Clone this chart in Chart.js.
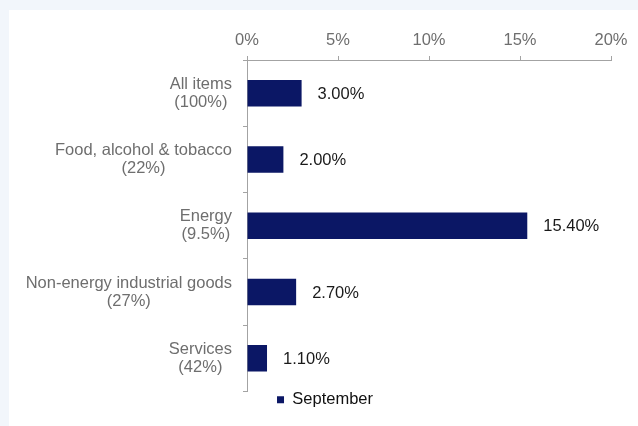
<!DOCTYPE html>
<html>
<head>
<meta charset="utf-8">
<script src="https://cdn.jsdelivr.net/npm/chart.js@4.4.1/dist/chart.umd.min.js"></script>
<style>
  html, body { margin: 0; padding: 0; background: #f2f6fb; }
  #panel { position: absolute; left: 9px; top: 10px; width: 629px; height: 416px; background: #fff; }
  canvas { display: block; }
</style>
</head>
<body>
<div id="panel"><canvas id="chart" width="629" height="416"></canvas></div>
<script>
// categories (two-line labels) and September inflation values
const categories = [
    ["All items", "(100%)"],
    ["Food, alcohol & tobacco", "(22%)"],
    ["Energy", "(9.5%)"],
    ["Non-energy industrial goods", "(27%)"],
    ["Services", "(42%)"]
];
const september = [3.0, 2.0, 15.4, 2.7, 1.1];
const xTicks = [0, 5, 10, 15, 20];

const FONT = "'Liberation Sans', Arial, sans-serif";
const AXIS = "#a3a3a3";

// valeurs à droite des barres
const valueLabels = {
    id: "valueLabels",
    afterDatasetsDraw(chart) {
        const ctx = chart.ctx;
        const meta = chart.getDatasetMeta(0);
        ctx.save();
        ctx.font = "16.5px " + FONT;
        ctx.fillStyle = "#1a1a1a";
        ctx.textAlign = "left";
        ctx.textBaseline = "middle";
        meta.data.forEach((bar, i) => {
            ctx.fillText(september[i].toFixed(2) + "%", bar.x + 16, bar.y + 1);
        });
        ctx.restore();
    }
};

// category labels: block right-aligned to the axis, lines centred inside the block
const categoryLabels = {
    id: "categoryLabels",
    afterDraw(chart) {
        const ctx = chart.ctx;
        const s = chart.scales.y;
        const right = s.right - 4 - 11;
        const lh = 18;
        ctx.save();
        ctx.font = "16.5px " + FONT;
        ctx.fillStyle = "#6e6e6e";
        ctx.textAlign = "center";
        ctx.textBaseline = "middle";
        categories.forEach((lines, i) => {
            const w = Math.max(...lines.map(t => ctx.measureText(t).width));
            const cx = right - w / 2;
            const y0 = s.getPixelForTick(i) - (lines.length - 1) * lh / 2;
            lines.forEach((t, j) => ctx.fillText(t, cx, y0 + j * lh));
        });
        ctx.restore();
    }
};

new Chart(document.getElementById("chart"), {
    type: "bar",
    data: {
        labels: categories,
        datasets: [{
            label: "September",
            data: september,
            backgroundColor: "#0b1765",
            barPercentage: 0.4,
            categoryPercentage: 1
        }]
    },
    options: {
        indexAxis: "y",
        responsive: false,
        animation: false,
        layout: { padding: { left: 30, right: 27, top: 0, bottom: 8 } },
        scales: {
            x: {
                position: "top",
                min: 0,
                max: 20,
                afterBuildTicks: s => { s.ticks = xTicks.map(v => ({ value: v })); },
                afterFit: s => { s.height = 50; },
                grid: { drawOnChartArea: false, color: AXIS, tickLength: 4 },
                border: { color: AXIS },
                ticks: {
                    padding: 6,
                    color: "#6e6e6e",
                    font: { family: FONT, size: 16.5 },
                    callback: v => v + "%"
                }
            },
            y: {
                afterFit: s => { s.width = 208; },
                grid: { drawOnChartArea: false, color: AXIS, tickLength: 4 },
                border: { color: AXIS },
                ticks: { display: false }
            }
        },
        plugins: {
            legend: {
                position: "bottom",
                labels: {
                    boxWidth: 7,
                    boxHeight: 7,
                    padding: 0,
                    color: "#111",
                    font: { family: FONT, size: 16.5 }
                }
            },
            tooltip: { enabled: false }
        }
    },
    plugins: [valueLabels, categoryLabels]
});
</script>
</body>
</html>
